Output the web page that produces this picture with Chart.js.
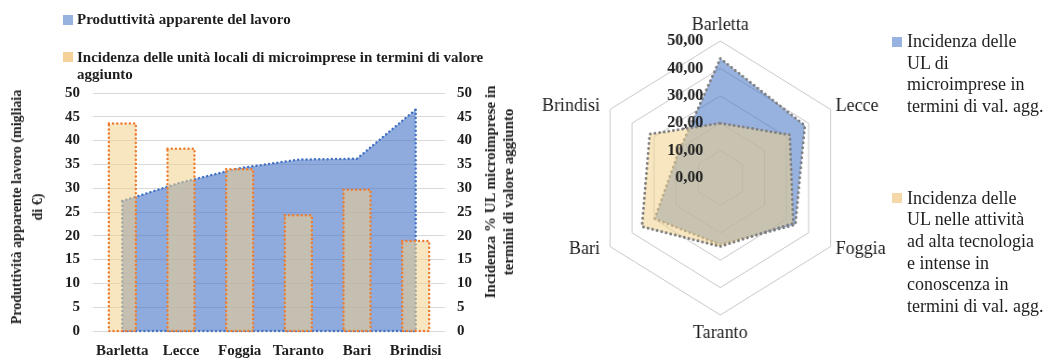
<!DOCTYPE html>
<html>
<head>
<meta charset="utf-8">
<script src="https://cdn.jsdelivr.net/npm/chart.js@4.4.1/dist/chart.umd.min.js"></script>
<style>
  html, body { margin:0; padding:0; background:#fff; }
  body { width:1056px; height:358px; position:relative; overflow:hidden; font-family:'Liberation Serif', serif; color:#1e1e1e; }
  .abs { position:absolute; }
  .mk { position:absolute; width:10px; height:10px; }
  .lg { position:absolute; white-space:nowrap; }
  .ltxt { font-weight:bold; font-size:15px; line-height:17px; }
  .rtxt { font-size:18px; line-height:21.7px; }
  .axt { position:absolute; font-weight:bold; text-align:center; white-space:nowrap; transform:translate(-50%,-50%) rotate(-90deg); }
</style>
</head>
<body>
<canvas id="c1" class="abs" style="left:0;top:0" width="530" height="358"></canvas>
<div id="wrap2" class="abs" style="left:525px;top:0;width:420px;height:358px;transform:scaleX(0.93);transform-origin:0 0;">
  <canvas id="c2" width="420" height="358"></canvas>
</div>

<!-- left legend -->
<div class="mk" style="left:63px;top:15px;background:rgba(68,114,196,0.55);"></div>
<div class="lg ltxt" style="left:77px;top:11px;">Produttività apparente del lavoro</div>
<div class="mk" style="left:63px;top:52px;background:rgba(240,190,110,0.7);"></div>
<div class="lg ltxt" style="left:77px;top:49px;">Incidenza delle unità locali di microimprese in termini di valore<br>aggiunto</div>

<!-- axis titles -->
<div class="axt" style="left:26.5px;top:207px;line-height:21px;font-size:14px;">Produttività apparente lavoro (migliaia<br>di €)</div>
<div class="axt" style="left:498.5px;top:192px;line-height:18px;font-size:15px;">Incidenza % UL microimprese in<br>termini di valore aggiunto</div>

<!-- radar legend -->
<div class="mk" style="left:892px;top:37px;background:rgba(68,114,196,0.55);"></div>
<div class="lg rtxt" style="left:907px;top:30.8px;">Incidenza delle<br>UL di<br>microimprese in<br>termini di val. agg.</div>
<div class="mk" style="left:892px;top:193px;background:rgba(240,200,130,0.7);"></div>
<div class="lg rtxt" style="left:907px;top:187.5px;">Incidenza delle<br>UL nelle attività<br>ad alta tecnologia<br>e intense in<br>conoscenza in<br>termini di val. agg.</div>

<script>
// ---------- data ----------
const categories = ['Barletta', 'Lecce', 'Foggia', 'Taranto', 'Bari', 'Brindisi'];
const produttivita = [27.3, 31.2, 34.2, 36.0, 36.2, 46.5];          // migliaia di €
const incidenzaMicro = [43.6, 38.3, 34.0, 24.3, 29.7, 18.9];         // % UL microimprese
const incidenzaAltaTec = [20.0, 31.5, 33.0, 25.0, 35.5, 32.0];       // % UL alta tecnologia
const axisTicks = [0, 5, 10, 15, 20, 25, 30, 35, 40, 45, 50];
const radarTicks = [0, 10, 20, 30, 40, 50];

const FONT = "'Liberation Serif', serif";
const TXT = '#1e1e1e';
Chart.defaults.font.family = FONT;
Chart.defaults.color = TXT;

const BLUE_FILL = 'rgba(68,114,196,0.6)';
const TAN_FILL = 'rgba(240,210,140,0.55)';

function dotted(ctx, color, w, gap) {
  ctx.strokeStyle = color;
  ctx.lineWidth = w;
  ctx.setLineDash([0.01, gap]);
  ctx.lineCap = 'round';
}

// outlines of the area (vertical edges + base) and dotted bar borders
const outlinePlugin = {
  id: 'outlines',
  afterDatasetDraw(chart, args) {
    const ds = chart.data.datasets[args.index];
    const ctx = chart.ctx;
    if (ds.type === 'line') {
      const pts = args.meta.data;
      const base = chart.scales.y.getPixelForValue(0);
      const first = pts[0], last = pts[pts.length - 1];
      ctx.save();
      dotted(ctx, '#4472c4', 2.5, 4.2);
      ctx.beginPath();
      ctx.moveTo(last.x, last.y);
      ctx.lineTo(last.x, base);
      ctx.lineTo(first.x, base);
      ctx.lineTo(first.x, first.y);
      ctx.stroke();
      ctx.restore();
    } else if (ds.type === 'bar') {
      ctx.save();
      dotted(ctx, '#ed7d31', 2.5, 4.2);
      args.meta.data.forEach(bar => {
        const p = bar.getProps(['x', 'y', 'base', 'width'], true);
        ctx.beginPath();
        ctx.rect(p.x - p.width / 2, p.y, p.width, p.base - p.y);
        ctx.stroke();
      });
      ctx.restore();
    }
  }
};

const tickFont = { size: 15, weight: 'bold', family: FONT };

new Chart(document.getElementById('c1'), {
  type: 'bar',
  data: {
    labels: categories,
    datasets: [
      {
        type: 'bar',
        label: 'Incidenza delle unità locali di microimprese in termini di valore aggiunto',
        data: incidenzaMicro,
        yAxisID: 'y2',
        backgroundColor: TAN_FILL,
        borderWidth: 0,
        barPercentage: 0.46,
        categoryPercentage: 1,
        order: 0
      },
      {
        type: 'line',
        label: 'Produttività apparente del lavoro',
        data: produttivita,
        yAxisID: 'y',
        fill: 'origin',
        backgroundColor: BLUE_FILL,
        borderColor: '#4472c4',
        borderWidth: 2.5,
        borderDash: [0.01, 4.2],
        borderCapStyle: 'round',
        pointRadius: 0,
        tension: 0,
        order: 1
      }
    ]
  },
  options: {
    responsive: false,
    animation: false,
    events: [],
    layout: { padding: { top: 93, left: 0, right: 0, bottom: 0 } },
    plugins: { legend: { display: false }, tooltip: { enabled: false } },
    scales: {
      x: {
        grid: { display: false, drawTicks: false },
        border: { display: false },
        ticks: { font: tickFont, color: TXT, padding: 11, maxRotation: 0, autoSkip: false },
        afterFit: s => { s.height = 27; }
      },
      y: {
        position: 'left',
        min: 0, max: 50,
        grid: { color: '#d9d9d9', drawTicks: false },
        border: { display: false },
        ticks: { font: tickFont, color: TXT, padding: 13 },
        afterBuildTicks: s => { s.ticks = axisTicks.map(v => ({ value: v })); },
        afterFit: s => { s.width = 93; }
      },
      y2: {
        position: 'right',
        min: 0, max: 50,
        grid: { display: false, drawTicks: false },
        border: { display: false },
        ticks: { font: tickFont, color: TXT, padding: 12 },
        afterBuildTicks: s => { s.ticks = axisTicks.map(v => ({ value: v })); },
        afterFit: s => { s.width = 85; }
      }
    }
  },
  plugins: [outlinePlugin]
});

// ---------- radar ----------
const SX = 0.93;
function drawText(ctx, t, x, y, align) {
  ctx.save();
  ctx.translate(x, y);
  ctx.scale(1 / SX, 1);
  ctx.textAlign = align;
  ctx.textBaseline = 'middle';
  ctx.fillText(t, 0, 0);
  ctx.restore();
}
const fmt = v => v.toFixed(2).replace('.', ',');

const radarLabelsPlugin = {
  id: 'radarLabels',
  afterDraw(chart) {
    const s = chart.scales.r;
    const ctx = chart.ctx;
    ctx.save();
    ctx.fillStyle = TXT;
    ctx.font = "18px " + FONT;
    categories.forEach((lab, i) => {
      const p = s.getPointPosition(i, s.drawingArea);
      let x = p.x, y = p.y, align = 'center';
      if (i === 0) { y -= 16; }
      else if (i === 3) { y += 18; }
      else if (i === 1 || i === 2) { x += 5 / SX; align = 'left'; y += (i === 1 ? -3 : 3); }
      else { x -= 10 / SX; align = 'right'; y += (i === 5 ? -3 : 3); }
      drawText(ctx, lab, x, y, align);
    });
    ctx.font = "bold 16px " + FONT;
    radarTicks.forEach(v => {
      const d = s.getDistanceFromCenterForValue(v);
      drawText(ctx, fmt(v), s.xCenter - 17 / SX, s.yCenter - d, 'right');
    });
    ctx.restore();
  }
};

new Chart(document.getElementById('c2'), {
  type: 'radar',
  data: {
    labels: categories,
    datasets: [
      {
        label: 'Incidenza delle UL di microimprese in termini di val. agg.',
        data: incidenzaMicro,
        fill: true,
        backgroundColor: 'rgba(68,114,196,0.55)',
        borderColor: '#7f7f7f',
        borderWidth: 3,
        borderDash: [0.01, 5],
        borderCapStyle: 'round',
        pointRadius: 0,
        order: 1
      },
      {
        label: 'Incidenza delle UL nelle attività ad alta tecnologia e intense in conoscenza in termini di val. agg.',
        data: incidenzaAltaTec,
        fill: true,
        backgroundColor: TAN_FILL,
        borderColor: '#7f7f7f',
        borderWidth: 3,
        borderDash: [0.01, 5],
        borderCapStyle: 'round',
        pointRadius: 0,
        order: 0
      }
    ]
  },
  options: {
    responsive: false,
    animation: false,
    events: [],
    layout: { padding: { top: 41, bottom: 43, left: 0, right: 0 } },
    plugins: { legend: { display: false }, tooltip: { enabled: false } },
    scales: {
      r: {
        min: 0, max: 50,
        afterBuildTicks: s => { s.ticks = radarTicks.map(v => ({ value: v })); },
        ticks: { display: false },
        pointLabels: { display: false },
        angleLines: { display: false },
        grid: { color: '#c8c8c8', lineWidth: 1 }
      }
    }
  },
  plugins: [radarLabelsPlugin]
});
</script>
</body>
</html>
